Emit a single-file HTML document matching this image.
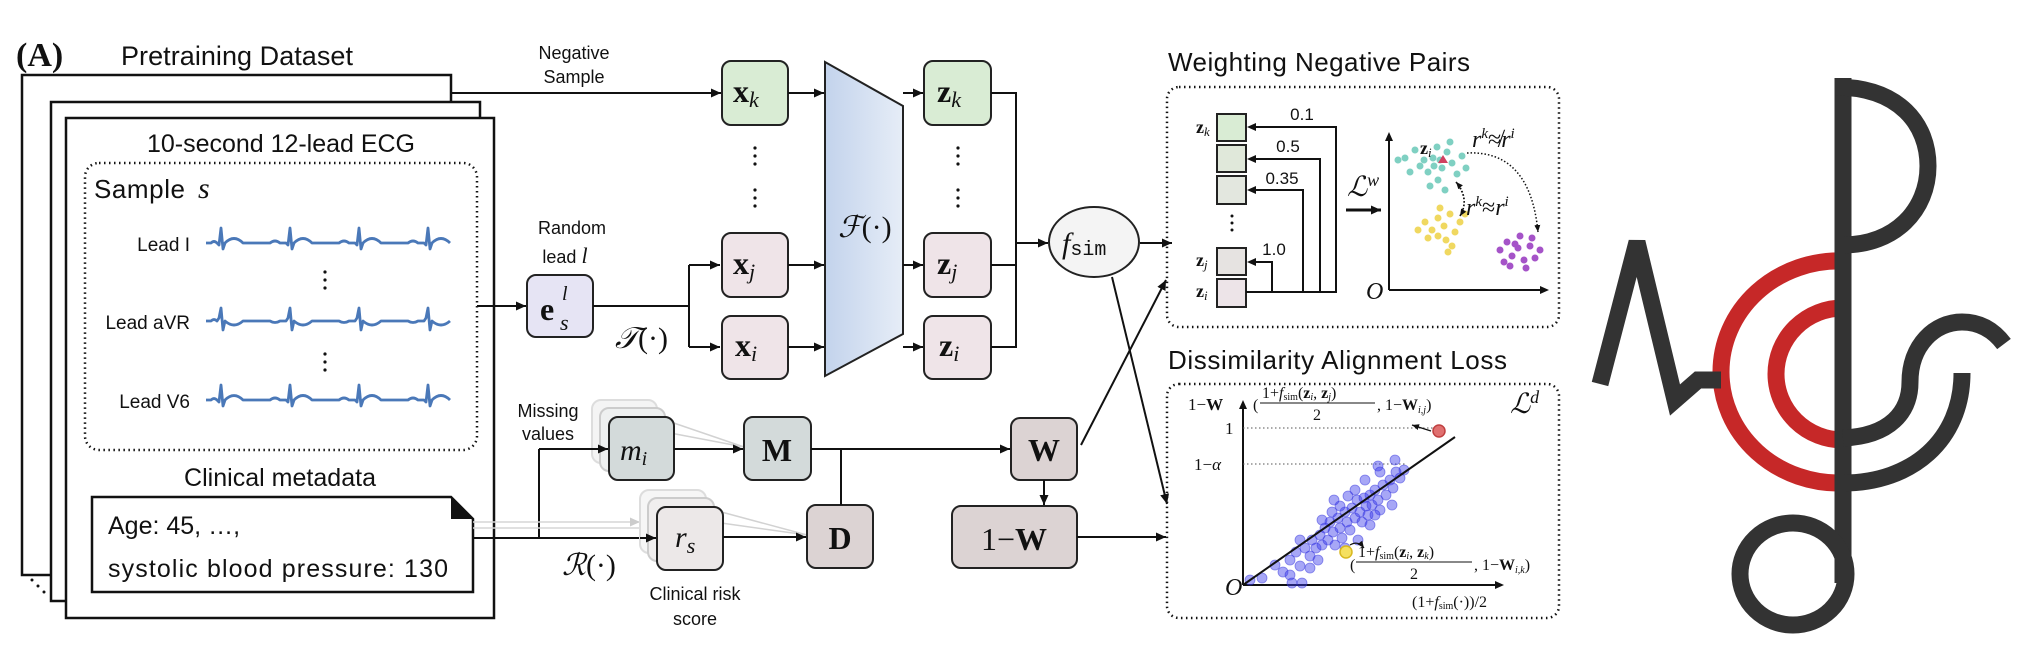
<!DOCTYPE html>
<html><head><meta charset="utf-8"><style>
html,body{margin:0;padding:0;background:#fff;}
svg{display:block;}
.s{font-family:"Liberation Sans",sans-serif;fill:#111;}
.m{font-family:"Liberation Serif",serif;fill:#111;}
</style></head><body>
<svg width="2023" height="662" viewBox="0 0 2023 662" xmlns="http://www.w3.org/2000/svg">
<defs>
<marker id="a" markerUnits="userSpaceOnUse" markerWidth="10" markerHeight="9" refX="10" refY="4.5" orient="auto"><path d="M0,0 L10,4.5 L0,9 z" fill="#111"/></marker>
<marker id="g" markerUnits="userSpaceOnUse" markerWidth="10" markerHeight="9" refX="10" refY="4.5" orient="auto"><path d="M0,0 L10,4.5 L0,9 z" fill="#ccc"/></marker>
<marker id="sm" markerUnits="userSpaceOnUse" markerWidth="7" markerHeight="6" refX="7" refY="3" orient="auto"><path d="M0,0 L7,3 L0,6 z" fill="#111"/></marker>
<linearGradient id="tg" x1="0" x2="1" y1="0" y2="0"><stop offset="0" stop-color="#c3d3ec"/><stop offset="1" stop-color="#e6edf7"/></linearGradient>
</defs>

<text x="16" y="66" class="m" font-size="34" font-weight="bold">(A)</text>
<text x="121" y="65" class="s" font-size="27" textLength="232">Pretraining Dataset</text>

<rect x="22" y="75" width="429" height="500" fill="#fff" stroke="#111" stroke-width="2.5"/>
<rect x="51" y="102" width="429" height="499" fill="#fff" stroke="#111" stroke-width="2.5"/>
<rect x="66" y="118" width="428" height="500" fill="#fff" stroke="#111" stroke-width="2.5"/>
<circle cx="32" cy="580" r="1.5" fill="#111"/><circle cx="38" cy="586" r="1.5" fill="#111"/><circle cx="44" cy="592" r="1.5" fill="#111"/>

<text x="147" y="152" class="s" font-size="25" textLength="268">10-second 12-lead ECG</text>
<rect x="85" y="163" width="392" height="287" rx="14" fill="none" stroke="#111" stroke-width="2.5" stroke-dasharray="1.5 3.5"/>
<text x="94" y="198" class="s" font-size="26" textLength="91">Sample</text>
<text x="198" y="198" class="m" font-size="30" font-style="italic">s</text>

<text x="190" y="251" class="s" font-size="19" text-anchor="end">Lead I</text>
<text x="190" y="329" class="s" font-size="19" text-anchor="end">Lead aVR</text>
<text x="190" y="408" class="s" font-size="19" text-anchor="end">Lead V6</text>
<g fill="#111"><circle cx="325" cy="272" r="1.6"/><circle cx="325" cy="280" r="1.6"/><circle cx="325" cy="288" r="1.6"/>
<circle cx="325" cy="354" r="1.6"/><circle cx="325" cy="362" r="1.6"/><circle cx="325" cy="370" r="1.6"/></g>
<g fill="none" stroke="#4a78b8" stroke-width="2.8" stroke-linejoin="round">
<path d="M206 243 l5 0 q3 -3 6 0 l2 2 l2 -17 l2 21 l2 -6 q9 -9 18 0 l27 0 q5 -4 10 0 l6 0 l2 2 l2 -17 l2 21 l2 -6 q9 -9 18 0 l27 0 q5 -4 10 0 l6 0 l2 2 l2 -17 l2 21 l2 -6 q9 -9 18 0 l27 0 q5 -4 10 0 l6 0 l2 2 l2 -17 l2 21 l2 -6 q9 -9 18 0"/>
<path d="M206 321 l5 0 q3 -3 6 0 l2 -3 l2 -10 l2 22 l2 -9 q9 8 18 0 l27 0 q5 3 10 0 l6 0 l2 -3 l2 -10 l2 22 l2 -9 q9 8 18 0 l27 0 q5 3 10 0 l6 0 l2 -3 l2 -10 l2 22 l2 -9 q9 8 18 0 l27 0 q5 3 10 0 l6 0 l2 -3 l2 -10 l2 22 l2 -9 q9 8 18 0"/>
<path d="M206 400 l5 0 q3 -3 6 0 l2 2 l2 -17 l2 21 l2 -6 q9 -9 18 0 l27 0 q5 -4 10 0 l6 0 l2 2 l2 -17 l2 21 l2 -6 q9 -9 18 0 l27 0 q5 -4 10 0 l6 0 l2 2 l2 -17 l2 21 l2 -6 q9 -9 18 0 l27 0 q5 -4 10 0 l6 0 l2 2 l2 -17 l2 21 l2 -6 q9 -9 18 0"/>
</g>

<text x="184" y="486" class="s" font-size="25" textLength="192">Clinical metadata</text>
<path d="M92 497 H451 L473 519 V592 H92 Z" fill="#fff" stroke="#111" stroke-width="2.5"/>
<path d="M451 497 L473 519 H451 Z" fill="#111"/>
<text x="108" y="534" class="s" font-size="25">Age: 45, …,</text>
<text x="108" y="577" class="s" font-size="25" textLength="340">systolic blood pressure: 130</text>

<text x="574" y="59" class="s" font-size="18" text-anchor="middle">Negative</text>
<text x="574" y="83" class="s" font-size="18" text-anchor="middle">Sample</text>
<line x1="451" y1="93" x2="721" y2="93" stroke="#111" stroke-width="2" marker-end="url(#a)"/>

<line x1="477" y1="306" x2="526" y2="306" stroke="#111" stroke-width="2" marker-end="url(#a)"/>
<text x="572" y="234" class="s" font-size="18" text-anchor="middle">Random</text>
<text x="565" y="263" class="s" font-size="18" text-anchor="middle">lead <tspan class="m" font-style="italic" font-size="22">l</tspan></text>
<rect x="527" y="275" width="66" height="62" rx="9" fill="#e6e4f4" stroke="#222" stroke-width="2"/>
<text x="540" y="320" class="m" font-size="32" font-weight="bold">e</text>
<text x="562" y="300" class="m" font-size="20" font-style="italic">l</text>
<text x="560" y="330" class="m" font-size="22" font-style="italic">s</text>
<path d="M593 306 H689 M689 265 V347" fill="none" stroke="#111" stroke-width="2"/>
<line x1="689" y1="265" x2="720" y2="265" stroke="#111" stroke-width="2" marker-end="url(#a)"/>
<line x1="689" y1="347" x2="720" y2="347" stroke="#111" stroke-width="2" marker-end="url(#a)"/>
<text x="615" y="348" class="m" font-size="30" font-style="italic">𝒯<tspan font-style="normal">(·)</tspan></text>

<rect x="722" y="61" width="66" height="64" rx="9" fill="#d9ecd4" stroke="#222" stroke-width="2"/>
<rect x="722" y="233" width="66" height="64" rx="9" fill="#efe4e8" stroke="#222" stroke-width="2"/>
<rect x="722" y="316" width="66" height="63" rx="9" fill="#efe4e8" stroke="#222" stroke-width="2"/>
<text x="733" y="102" class="m" font-size="32" font-weight="bold">x<tspan font-weight="normal" font-style="italic" font-size="22" dy="5">k</tspan></text>
<text x="733" y="274" class="m" font-size="32" font-weight="bold">x<tspan font-weight="normal" font-style="italic" font-size="22" dy="5">j</tspan></text>
<text x="735" y="356" class="m" font-size="32" font-weight="bold">x<tspan font-weight="normal" font-style="italic" font-size="22" dy="5">i</tspan></text>
<g fill="#111"><circle cx="755" cy="148" r="1.6"/><circle cx="755" cy="156" r="1.6"/><circle cx="755" cy="164" r="1.6"/>
<circle cx="755" cy="190" r="1.6"/><circle cx="755" cy="198" r="1.6"/><circle cx="755" cy="206" r="1.6"/>
<circle cx="958" cy="148" r="1.6"/><circle cx="958" cy="156" r="1.6"/><circle cx="958" cy="164" r="1.6"/>
<circle cx="958" cy="190" r="1.6"/><circle cx="958" cy="198" r="1.6"/><circle cx="958" cy="206" r="1.6"/></g>
<line x1="788" y1="93" x2="824" y2="93" stroke="#111" stroke-width="2" marker-end="url(#a)"/>
<line x1="788" y1="265" x2="824" y2="265" stroke="#111" stroke-width="2" marker-end="url(#a)"/>
<line x1="788" y1="347" x2="824" y2="347" stroke="#111" stroke-width="2" marker-end="url(#a)"/>

<path d="M825 62 L903 106 V334 L825 376 Z" fill="url(#tg)" stroke="#222" stroke-width="2"/>
<text x="838" y="237" class="m" font-size="30" font-style="italic">ℱ<tspan font-style="normal">(·)</tspan></text>

<line x1="903" y1="93" x2="923" y2="93" stroke="#111" stroke-width="2" marker-end="url(#a)"/>
<line x1="903" y1="265" x2="923" y2="265" stroke="#111" stroke-width="2" marker-end="url(#a)"/>
<line x1="903" y1="347" x2="923" y2="347" stroke="#111" stroke-width="2" marker-end="url(#a)"/>

<rect x="924" y="61" width="67" height="64" rx="9" fill="#d9ecd4" stroke="#222" stroke-width="2"/>
<rect x="924" y="233" width="67" height="64" rx="9" fill="#efe4e8" stroke="#222" stroke-width="2"/>
<rect x="924" y="316" width="67" height="63" rx="9" fill="#efe4e8" stroke="#222" stroke-width="2"/>
<text x="937" y="102" class="m" font-size="32" font-weight="bold">z<tspan font-weight="normal" font-style="italic" font-size="22" dy="5">k</tspan></text>
<text x="937" y="274" class="m" font-size="32" font-weight="bold">z<tspan font-weight="normal" font-style="italic" font-size="22" dy="5">j</tspan></text>
<text x="939" y="356" class="m" font-size="32" font-weight="bold">z<tspan font-weight="normal" font-style="italic" font-size="22" dy="5">i</tspan></text>
<path d="M991 93 H1016 V347 H991 M991 265 H1016" fill="none" stroke="#111" stroke-width="2"/>
<line x1="1016" y1="243" x2="1048" y2="243" stroke="#111" stroke-width="2" marker-end="url(#a)"/>

<ellipse cx="1094" cy="242" rx="45" ry="35" fill="#f4f4f4" stroke="#222" stroke-width="2"/>
<text x="1062" y="253" class="m" font-size="30" font-style="italic">f<tspan font-family="Liberation Mono,monospace" font-style="normal" font-size="20" dy="2">sim</tspan></text>
<line x1="1140" y1="243" x2="1172" y2="243" stroke="#111" stroke-width="2" marker-end="url(#a)"/>
<line x1="1112" y1="277" x2="1167" y2="504" stroke="#111" stroke-width="2" marker-end="url(#a)"/>

<text x="548" y="417" class="s" font-size="18" text-anchor="middle">Missing</text>
<text x="548" y="440" class="s" font-size="18" text-anchor="middle">values</text>
<text x="637" y="424" class="m" font-size="30" font-style="italic">m<tspan font-size="20" dy="5">k</tspan></text>
<rect x="592" y="400" width="65" height="63" rx="9" fill="#f4f4f4" stroke="#ddd" stroke-width="2"/>
<rect x="600" y="408" width="65" height="63" rx="9" fill="#eef0f0" stroke="#ccc" stroke-width="2"/>
<g stroke="#d2d2d2" stroke-width="1.5" fill="none"><line x1="665" y1="420" x2="744" y2="447"/><line x1="665" y1="432" x2="744" y2="447"/></g>
<rect x="609" y="417" width="65" height="63" rx="9" fill="#d3dada" stroke="#222" stroke-width="2"/>
<text x="620" y="460" class="m" font-size="30" font-style="italic">m<tspan font-size="20" dy="5">i</tspan></text>
<path d="M473 538 H656 M539 538 V449" fill="none" stroke="#111" stroke-width="2"/>
<line x1="539" y1="449" x2="608" y2="449" stroke="#111" stroke-width="2" marker-end="url(#a)"/>
<g stroke="#d6d6d6" stroke-width="1.5"><line x1="473" y1="522" x2="640" y2="522" marker-end="url(#g)"/><line x1="473" y1="528" x2="648" y2="528"/></g>
<text x="562" y="575" class="m" font-size="30" font-style="italic">ℛ<tspan font-style="normal">(·)</tspan></text>
<rect x="640" y="490" width="66" height="63" rx="9" fill="#f6f6f6" stroke="#ddd" stroke-width="2"/>
<rect x="648" y="498" width="66" height="63" rx="9" fill="#f0eeee" stroke="#ccc" stroke-width="2"/>
<g stroke="#d2d2d2" stroke-width="1.5" fill="none"><line x1="714" y1="510" x2="807" y2="535"/><line x1="714" y1="522" x2="807" y2="535"/></g>
<rect x="657" y="507" width="66" height="63" rx="9" fill="#ece8e8" stroke="#222" stroke-width="2"/>
<text x="675" y="547" class="m" font-size="30" font-style="italic">r<tspan font-size="22" dy="6">s</tspan></text>
<line x1="640" y1="538" x2="656" y2="538" stroke="#111" stroke-width="2" marker-end="url(#a)"/>
<text x="695" y="600" class="s" font-size="18" text-anchor="middle">Clinical risk</text>
<text x="695" y="625" class="s" font-size="18" text-anchor="middle">score</text>

<line x1="674" y1="449" x2="743" y2="449" stroke="#111" stroke-width="2" marker-end="url(#a)"/>
<rect x="744" y="417" width="67" height="63" rx="9" fill="#d3dada" stroke="#222" stroke-width="2"/>
<text x="777" y="461" class="m" font-size="32" font-weight="bold" text-anchor="middle">M</text>
<line x1="723" y1="537" x2="806" y2="537" stroke="#111" stroke-width="2" marker-end="url(#a)"/>
<rect x="807" y="505" width="66" height="63" rx="9" fill="#dcd3d3" stroke="#222" stroke-width="2"/>
<text x="840" y="549" class="m" font-size="32" font-weight="bold" text-anchor="middle">D</text>
<path d="M811 449 H1010 M841 449 V505" fill="none" stroke="#111" stroke-width="2"/>
<line x1="990" y1="449" x2="1010" y2="449" stroke="#111" stroke-width="2" marker-end="url(#a)"/>

<rect x="1011" y="418" width="66" height="62" rx="9" fill="#dcd3d3" stroke="#222" stroke-width="2"/>
<text x="1044" y="461" class="m" font-size="32" font-weight="bold" text-anchor="middle">W</text>
<line x1="1044" y1="480" x2="1044" y2="505" stroke="#111" stroke-width="2" marker-end="url(#a)"/>
<rect x="952" y="506" width="125" height="62" rx="9" fill="#dcd3d3" stroke="#222" stroke-width="2"/>
<text x="1014" y="550" class="m" font-size="32" text-anchor="middle">1−<tspan font-weight="bold">W</tspan></text>
<line x1="1077" y1="537" x2="1166" y2="537" stroke="#111" stroke-width="2" marker-end="url(#a)"/>
<line x1="1081" y1="445" x2="1166" y2="280" stroke="#111" stroke-width="2" marker-end="url(#a)"/>

<text x="1168" y="71" class="s" font-size="26" textLength="302">Weighting Negative Pairs</text>
<rect x="1167" y="87" width="392" height="240" rx="12" fill="none" stroke="#111" stroke-width="2.5" stroke-dasharray="1.5 3.5"/>
<g stroke="#222" stroke-width="2">
<rect x="1217" y="114" width="29" height="27" fill="#d9ecd4"/>
<rect x="1217" y="145" width="29" height="27" fill="#e0e8da"/>
<rect x="1217" y="176" width="29" height="28" fill="#e3e7df"/>
<rect x="1217" y="248" width="29" height="27" fill="#e6e3e1"/>
<rect x="1217" y="279" width="29" height="28" fill="#ede4e8"/>
</g>
<g fill="#111"><circle cx="1232" cy="216" r="1.5"/><circle cx="1232" cy="223" r="1.5"/><circle cx="1232" cy="230" r="1.5"/></g>
<text x="1196" y="133" class="m" font-size="18" font-weight="bold">z<tspan font-style="italic" font-weight="normal" font-size="13" dy="3">k</tspan></text>
<text x="1196" y="266" class="m" font-size="18" font-weight="bold">z<tspan font-style="italic" font-weight="normal" font-size="13" dy="3">j</tspan></text>
<text x="1196" y="297" class="m" font-size="18" font-weight="bold">z<tspan font-style="italic" font-weight="normal" font-size="13" dy="3">i</tspan></text>
<g fill="none" stroke="#111" stroke-width="2">
<path d="M1246 292 H1336 V127 H1254"/><path d="M1320 292 V159 H1254"/><path d="M1303 292 V190 H1254"/><path d="M1272 292 V262 H1254"/>
</g>
<g fill="#111"><path d="M1247 127 l9 -4 v8z"/><path d="M1247 159 l9 -4 v8z"/><path d="M1247 190 l9 -4 v8z"/><path d="M1247 262 l9 -4 v8z"/></g>
<g class="s" font-size="17" text-anchor="middle"><text x="1302" y="120">0.1</text><text x="1288" y="152">0.5</text><text x="1282" y="184">0.35</text><text x="1274" y="255">1.0</text></g>
<text x="1347" y="196" class="m" font-size="28" font-style="italic">ℒ<tspan font-size="18" dy="-10">w</tspan></text>
<line x1="1346" y1="210" x2="1381" y2="210" stroke="#111" stroke-width="3" marker-end="url(#a)"/>
<path d="M1389 290 V136 M1389 290 H1545" fill="none" stroke="#111" stroke-width="2"/>
<path d="M1389 132 l-4 9 h8z M1549 290 l-9 -4 v8z" fill="#111"/>
<text x="1366" y="299" class="m" font-size="24" font-style="italic">O</text>
<g fill="#7fd0c2">
<circle cx="1405" cy="158" r="3.5"/><circle cx="1415" cy="150" r="3.5"/><circle cx="1420" cy="166" r="3.5"/><circle cx="1428" cy="172" r="3.5"/><circle cx="1433" cy="158" r="3.5"/><circle cx="1437" cy="147" r="3.5"/><circle cx="1442" cy="168" r="3.5"/><circle cx="1447" cy="152" r="3.5"/><circle cx="1452" cy="163" r="3.5"/><circle cx="1457" cy="174" r="3.5"/><circle cx="1462" cy="156" r="3.5"/><circle cx="1438" cy="180" r="3.5"/><circle cx="1430" cy="186" r="3.5"/><circle cx="1445" cy="190" r="3.5"/><circle cx="1424" cy="160" r="3.5"/><circle cx="1450" cy="142" r="3.5"/><circle cx="1466" cy="168" r="3.5"/><circle cx="1410" cy="172" r="3.5"/><circle cx="1440" cy="160" r="3.5"/><circle cx="1434" cy="166" r="3.5"/><circle cx="1398" cy="160" r="3.5"/>
</g>
<path d="M1443 155 l5 8 h-10z" fill="#d04060"/>
<text x="1420" y="154" class="m" font-size="18" font-weight="bold">z<tspan font-style="italic" font-weight="normal" font-size="13" dy="3">i</tspan></text>
<g fill="#f0d860">
<circle cx="1425" cy="222" r="3.5"/><circle cx="1432" cy="230" r="3.5"/><circle cx="1438" cy="218" r="3.5"/><circle cx="1444" cy="226" r="3.5"/><circle cx="1450" cy="214" r="3.5"/><circle cx="1455" cy="232" r="3.5"/><circle cx="1446" cy="240" r="3.5"/><circle cx="1438" cy="236" r="3.5"/><circle cx="1460" cy="222" r="3.5"/><circle cx="1428" cy="238" r="3.5"/><circle cx="1452" cy="246" r="3.5"/><circle cx="1440" cy="208" r="3.5"/><circle cx="1418" cy="230" r="3.5"/><circle cx="1465" cy="214" r="3.5"/><circle cx="1448" cy="252" r="3.5"/>
</g>
<g fill="#a553c8">
<circle cx="1500" cy="250" r="3.5"/><circle cx="1507" cy="242" r="3.5"/><circle cx="1512" cy="256" r="3.5"/><circle cx="1518" cy="248" r="3.5"/><circle cx="1524" cy="260" r="3.5"/><circle cx="1530" cy="246" r="3.5"/><circle cx="1520" cy="236" r="3.5"/><circle cx="1535" cy="258" r="3.5"/><circle cx="1510" cy="266" r="3.5"/><circle cx="1526" cy="268" r="3.5"/><circle cx="1540" cy="250" r="3.5"/><circle cx="1504" cy="262" r="3.5"/><circle cx="1515" cy="244" r="3.5"/><circle cx="1532" cy="238" r="3.5"/>
</g>
<g fill="none" stroke="#111" stroke-width="1.5" stroke-dasharray="1.5 2">
<path d="M1467 153 Q1530 150 1538 232" marker-end="url(#sm)"/><path d="M1456 182 Q1470 200 1460 216" marker-end="url(#sm)"/><path d="M1460 216 Q1470 198 1456 182" marker-end="url(#sm)"/>
</g>
<text x="1472" y="147" class="m" font-size="24" font-style="italic">r<tspan font-size="15" dy="-9">k</tspan><tspan dy="9" font-style="normal">≉</tspan>r<tspan font-size="15" dy="-9">i</tspan></text>
<text x="1466" y="215" class="m" font-size="24" font-style="italic">r<tspan font-size="15" dy="-9">k</tspan><tspan dy="9" font-style="normal">≈</tspan>r<tspan font-size="15" dy="-9">i</tspan></text>

<text x="1168" y="369" class="s" font-size="26" textLength="339">Dissimilarity Alignment Loss</text>
<rect x="1167" y="384" width="392" height="234" rx="12" fill="none" stroke="#111" stroke-width="2.5" stroke-dasharray="1.5 3.5"/>
<path d="M1243 585 V404 M1243 585 H1500" fill="none" stroke="#111" stroke-width="2"/>
<path d="M1243 400 l-4 9 h8z M1504 585 l-9 -4 v8z" fill="#111"/>
<text x="1188" y="410" class="m" font-size="17">1−<tspan font-weight="bold">W</tspan></text>
<text x="1225" y="434" class="m" font-size="17">1</text>
<text x="1194" y="470" class="m" font-size="17">1−<tspan font-style="italic">α</tspan></text>
<g stroke="#555" stroke-width="1" stroke-dasharray="1.5 2.5"><line x1="1243" y1="428" x2="1437" y2="428"/><line x1="1243" y1="464" x2="1407" y2="464"/></g>
<text x="1225" y="595" class="m" font-size="24" font-style="italic">O</text>
<g fill="rgba(60,60,235,0.45)" stroke="rgba(50,50,220,0.55)" stroke-width="0.8">
<circle cx="1250" cy="580" r="5"/><circle cx="1262" cy="578" r="5"/><circle cx="1275" cy="565" r="5"/><circle cx="1283" cy="572" r="5"/><circle cx="1290" cy="560" r="5"/><circle cx="1296" cy="552" r="5"/><circle cx="1300" cy="566" r="5"/><circle cx="1305" cy="548" r="5"/><circle cx="1310" cy="556" r="5"/><circle cx="1312" cy="540" r="5"/><circle cx="1316" cy="548" r="5"/><circle cx="1320" cy="535" r="5"/><circle cx="1322" cy="545" r="5"/><circle cx="1325" cy="528" r="5"/><circle cx="1328" cy="540" r="5"/><circle cx="1330" cy="522" r="5"/><circle cx="1333" cy="532" r="5"/><circle cx="1335" cy="545" r="5"/><circle cx="1338" cy="518" r="5"/><circle cx="1340" cy="528" r="5"/><circle cx="1342" cy="538" r="5"/><circle cx="1345" cy="512" r="5"/><circle cx="1347" cy="522" r="5"/><circle cx="1350" cy="530" r="5"/><circle cx="1352" cy="508" r="5"/><circle cx="1355" cy="518" r="5"/><circle cx="1357" cy="500" r="5"/><circle cx="1360" cy="512" r="5"/><circle cx="1362" cy="522" r="5"/><circle cx="1364" cy="498" r="5"/><circle cx="1366" cy="506" r="5"/><circle cx="1368" cy="515" r="5"/><circle cx="1370" cy="495" r="5"/><circle cx="1372" cy="505" r="5"/><circle cx="1375" cy="490" r="5"/><circle cx="1378" cy="500" r="5"/><circle cx="1380" cy="510" r="5"/><circle cx="1383" cy="485" r="5"/><circle cx="1386" cy="495" r="5"/><circle cx="1390" cy="480" r="5"/><circle cx="1393" cy="488" r="5"/><circle cx="1396" cy="472" r="5"/><circle cx="1400" cy="478" r="5"/><circle cx="1404" cy="470" r="5"/><circle cx="1378" cy="466" r="5"/><circle cx="1340" cy="506" r="5"/><circle cx="1332" cy="512" r="5"/><circle cx="1318" cy="560" r="5"/><circle cx="1300" cy="540" r="5"/><circle cx="1345" cy="548" r="5"/><circle cx="1370" cy="525" r="5"/><circle cx="1380" cy="472" r="5"/><circle cx="1355" cy="490" r="5"/><circle cx="1290" cy="575" r="5"/><circle cx="1392" cy="505" r="5"/><circle cx="1322" cy="520" r="5"/><circle cx="1310" cy="568" r="5"/><circle cx="1365" cy="480" r="5"/><circle cx="1375" cy="515" r="5"/><circle cx="1395" cy="460" r="5"/><circle cx="1292" cy="583" r="5"/><circle cx="1302" cy="583" r="5"/><circle cx="1334" cy="500" r="5"/><circle cx="1348" cy="496" r="5"/><circle cx="1358" cy="540" r="5"/>
</g>
<line x1="1243" y1="585" x2="1455" y2="437" stroke="#111" stroke-width="2"/>
<circle cx="1439" cy="431" r="6" fill="#e07070" stroke="#c04040" stroke-width="1.5"/>
<line x1="1431" y1="431" x2="1412" y2="425" stroke="#111" stroke-width="1.2" marker-end="url(#sm)"/>
<circle cx="1346" cy="552" r="6" fill="#f5e060" stroke="#d8b820" stroke-width="1.5"/>
<path d="M1350 545 Q1358 540 1364 548" fill="none" stroke="#111" stroke-width="1.2" marker-end="url(#sm)"/>
<g class="m" font-size="16">
<text x="1253" y="410">(</text>
<text x="1262" y="398"><tspan>1+</tspan><tspan font-style="italic">f</tspan><tspan font-size="10" dy="2">sim</tspan><tspan dy="-2">(</tspan><tspan font-weight="bold">z</tspan><tspan font-style="italic" font-size="10" dy="2">i</tspan><tspan dy="-2">, </tspan><tspan font-weight="bold">z</tspan><tspan font-style="italic" font-size="10" dy="2">j</tspan><tspan dy="-2">)</tspan></text>
<line x1="1260" y1="403" x2="1375" y2="403" stroke="#111" stroke-width="1"/>
<text x="1313" y="420">2</text>
<text x="1377" y="410">, 1−<tspan font-weight="bold">W</tspan><tspan font-style="italic" font-size="10" dy="3">i,j</tspan><tspan dy="-3">)</tspan></text>
<text x="1350" y="570">(</text>
<text x="1358" y="557"><tspan>1+</tspan><tspan font-style="italic">f</tspan><tspan font-size="10" dy="2">sim</tspan><tspan dy="-2">(</tspan><tspan font-weight="bold">z</tspan><tspan font-style="italic" font-size="10" dy="2">i</tspan><tspan dy="-2">, </tspan><tspan font-weight="bold">z</tspan><tspan font-style="italic" font-size="10" dy="2">k</tspan><tspan dy="-2">)</tspan></text>
<line x1="1356" y1="562" x2="1472" y2="562" stroke="#111" stroke-width="1"/>
<text x="1410" y="579">2</text>
<text x="1474" y="570">, 1−<tspan font-weight="bold">W</tspan><tspan font-style="italic" font-size="10" dy="3">i,k</tspan><tspan dy="-3">)</tspan></text>
<text x="1412" y="607">(1+<tspan font-style="italic">f</tspan><tspan font-size="10" dy="2">sim</tspan><tspan dy="-2">(·))/2</tspan></text>
</g>
<text x="1510" y="413" class="m" font-size="28" font-style="italic">ℒ<tspan font-size="18" dy="-10">d</tspan></text>

<g fill="none" stroke-width="17">
<path d="M1721 372 A118 111 0 0 1 1843 261" stroke="#c62828"/>
<path d="M1721 372 A118 111 0 0 0 1843 483" stroke="#c62828"/>
<path d="M1843 308 A67 66 0 0 0 1843 440" stroke="#c62828"/>
<path d="M1600 384 L1637 242 L1675 400 L1698 380 H1721" stroke="#333" stroke-linejoin="miter"/>
<line x1="1843" y1="78" x2="1843" y2="583" stroke="#333"/>
<path d="M1835 87 C1900 87 1928 125 1928 166 C1928 210 1895 245 1843 245" stroke="#333"/>
<path d="M1843 438 C1890 436 1910 412 1910 382 C1910 345 1935 322 1962 322 C1982 322 1995 332 2004 344" stroke="#333"/>
<path d="M1962 373 C1962 440 1912 483 1843 483" stroke="#333"/>
<ellipse cx="1793" cy="574" rx="53" ry="51" stroke="#333"/>
</g>
</svg>
</body></html>
